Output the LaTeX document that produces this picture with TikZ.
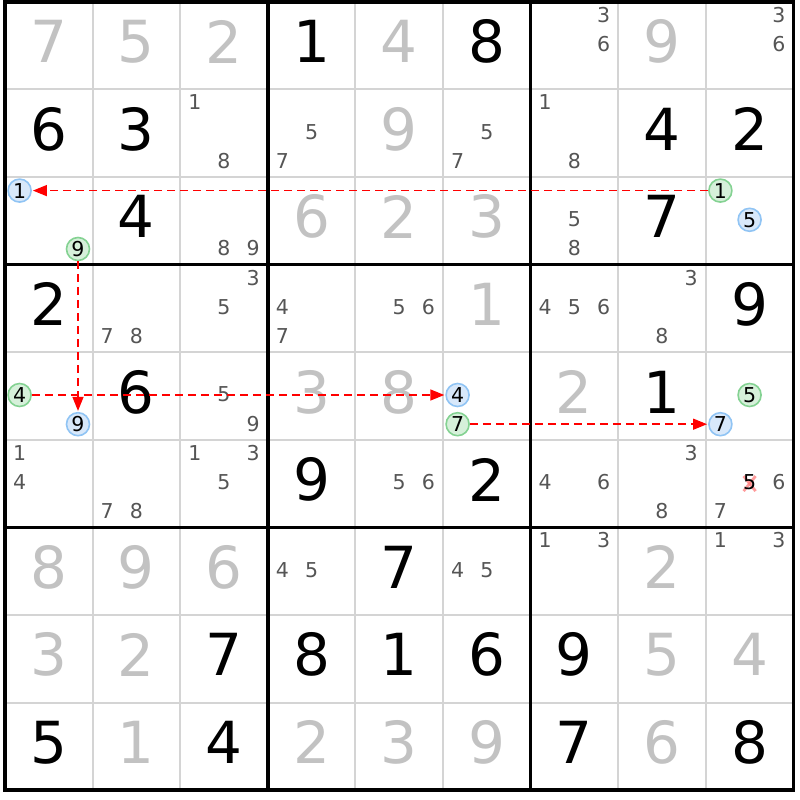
\documentclass[tikz,border=0pt]{standalone}
\usepackage{fontspec}
\setmainfont{DejaVu Sans}
\usetikzlibrary{arrows.meta}
\definecolor{solvedgray}{HTML}{C2C2C2}
\definecolor{candgray}{HTML}{555555}
\definecolor{gridgray}{HTML}{D4D4D4}
\definecolor{onfill}{HTML}{D8E8FA}
\definecolor{ondraw}{HTML}{90C4F4}
\definecolor{offfill}{HTML}{D6F0DA}
\definecolor{offdraw}{HTML}{84D292}
\definecolor{crosspink}{HTML}{FF7C7C}

\begin{document}
\begin{tikzpicture}[x=87.6pt,y=-87.6pt,>={Triangle[length=14pt,width=11pt]},
        given/.style={font=\fontsize{58}{58}\selectfont,text=black,yshift=4pt},
        solved/.style={given,text=solvedgray},
        cand/.style={font=\fontsize{20.5}{20.5}\selectfont,text=candgray,inner sep=0pt,yshift=1.5pt},
        bluecand/.style={cand,text=black,circle,draw=ondraw,fill=onfill,line width=1.6pt,
            minimum size=23pt,yshift=-0.5pt},
        greencand/.style={bluecand,draw=offdraw,fill=offfill},
        thingrid/.style={gridgray,line width=2pt},
        thickgrid/.style={black,line width=3.6pt},
        link/.style={->,red,line width=1.4pt,dash pattern=on 8pt off 5pt,shorten >=1pt},
        crossout/.style={crosspink,opacity=0.75,line width=2.8pt}]

    \useasboundingbox[fill=white] (-0.0571,-0.0205) rectangle (9.075,9.112);

    % grid
    \foreach \i in {1,2,4,5,7,8} {
        \draw[thingrid] (\i,0) -- (\i,9);
        \draw[thingrid] (0,\i) -- (9,\i);
    }
    \foreach \i in {3,6} {
        \draw[thickgrid] (\i,0) -- (\i,9);
        \draw[thickgrid] (0,\i) -- (9,\i);
    }
    \draw[thickgrid] (0,0) rectangle (9,9);

    % clues and placed digits
    \foreach \r/\c/\d in {1/4/1,1/6/8,2/1/6,2/2/3,2/8/4,2/9/2,3/2/4,3/8/7,4/1/2,4/9/9,
            5/2/6,5/8/1,6/4/9,6/6/2,7/5/7,8/3/7,8/4/8,8/5/1,8/6/6,8/7/9,
            9/1/5,9/3/4,9/7/7,9/9/8}
        \node[given] (g\r\c) at (\c-0.5,\r-0.5) {\d};
    \foreach \r/\c/\d in {1/1/7,1/2/5,1/3/2,1/5/4,1/8/9,2/5/9,3/4/6,3/5/2,3/6/3,4/6/1,
            5/4/3,5/5/8,5/7/2,7/1/8,7/2/9,7/3/6,7/8/2,8/1/3,8/2/2,8/8/5,8/9/4,
            9/2/1,9/4/2,9/5/3,9/6/9,9/8/6}
        \node[solved] (g\r\c) at (\c-0.5,\r-0.5) {\d};

    % candidates
    \foreach \r/\c/\d/\s in {1/7/3/cand,1/7/6/cand,1/9/3/cand,1/9/6/cand,
            2/3/1/cand,2/3/8/cand,2/4/5/cand,2/4/7/cand,2/6/5/cand,2/6/7/cand,2/7/1/cand,2/7/8/cand,
            3/1/1/bluecand,3/1/9/greencand,3/3/8/cand,3/3/9/cand,3/7/5/cand,3/7/8/cand,
            3/9/1/greencand,3/9/5/bluecand,
            4/2/7/cand,4/2/8/cand,4/3/3/cand,4/3/5/cand,4/4/4/cand,4/4/7/cand,4/5/5/cand,4/5/6/cand,
            4/7/4/cand,4/7/5/cand,4/7/6/cand,4/8/3/cand,4/8/8/cand,
            5/1/4/greencand,5/1/9/bluecand,5/3/5/cand,5/3/9/cand,5/6/4/bluecand,5/6/7/greencand,
            5/9/5/greencand,5/9/7/bluecand,
            6/1/1/cand,6/1/4/cand,6/2/7/cand,6/2/8/cand,6/3/1/cand,6/3/3/cand,6/3/5/cand,
            6/5/5/cand,6/5/6/cand,6/7/4/cand,6/7/6/cand,6/8/3/cand,6/8/8/cand,
            6/9/6/cand,6/9/7/cand,
            7/4/4/cand,7/4/5/cand,7/6/4/cand,7/6/5/cand,7/7/1/cand,7/7/3/cand,7/9/1/cand,7/9/3/cand} {
        \pgfmathsetmacro\cx{\c-1+(mod(\d-1,3)+0.5)/3}
        \pgfmathsetmacro\cy{\r-1+(int((\d-1)/3)+0.5)/3}
        \node[\s] (k\r\c\d) at (\cx,\cy) {\d};
    }

    % eliminated candidate
    \draw[crossout] (8.5,5.5) ++(-6pt,-7.5pt) -- ++(12pt,15pt);
    \draw[crossout] (8.5,5.5) ++(-6pt,7.5pt) -- ++(12pt,-15pt);
    \node[cand,text=black] (k695) at (8.5,5.5) {5};

    \path[link] (k391) edge (k311)
        (k319) edge (k519)
        (k514) edge (k564)
        (k567) edge (k597);

\end{tikzpicture}
\end{document}
